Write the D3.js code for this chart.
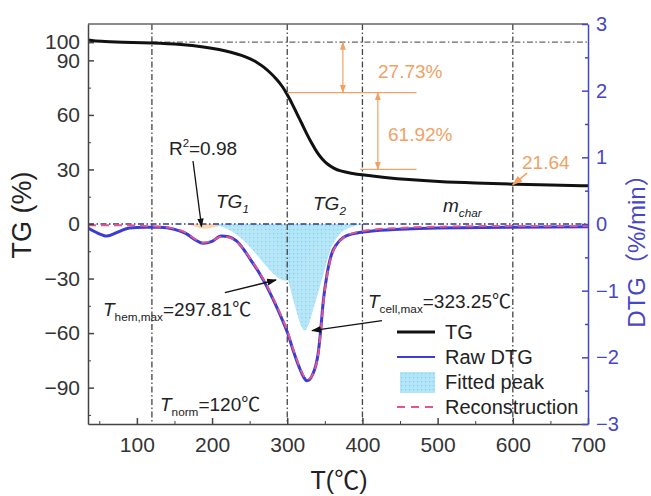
<!DOCTYPE html>
<html><head><meta charset="utf-8">
<script src="https://cdn.jsdelivr.net/npm/d3@7"></script>
<style>
body{margin:0;background:#fff}
text{font-family:"Liberation Sans",Arial,"Noto Sans CJK SC",sans-serif}
</style>
</head><body>
<svg id="c" width="651" height="496"></svg>
<script>
// ---------- data ----------
const tgT = [35, 50, 80, 120, 160, 190, 210, 225, 240, 250, 260, 268, 278, 286, 294, 301, 307, 313, 320, 326, 333, 340, 347, 353, 362, 370, 385, 400, 430, 460, 500, 550, 600, 650, 700];
const tgV = [101.2, 100.4, 100.0, 99.6, 98.8, 97.4, 96.0, 94.5, 92.8, 91.0, 88.9, 86.6, 83.0, 79.6, 75.5, 70.4, 65.8, 60.5, 54.8, 49.5, 44.0, 39.0, 35.5, 33.0, 30.6, 29.2, 27.9, 27.0, 25.6, 24.4, 23.3, 22.5, 21.9, 21.4, 21.0];

const dtgT = [35, 45, 60, 75, 90, 110, 130, 150, 165, 178, 188, 200, 212, 222, 232, 242, 252, 262, 272, 282, 292, 300, 308, 316, 322, 326, 330, 334, 338, 341, 344, 348, 353, 359, 366, 375, 390, 410, 450, 500, 600, 700];
const rawDTG = [-0.06, -0.12, -0.18, -0.12, -0.06, -0.05, -0.05, -0.08, -0.14, -0.24, -0.29, -0.26, -0.18, -0.19, -0.25, -0.38, -0.55, -0.72, -0.92, -1.15, -1.4, -1.62, -1.9, -2.15, -2.3, -2.35, -2.33, -2.25, -2.12, -1.95, -1.65, -1.15, -0.75, -0.45, -0.3, -0.2, -0.14, -0.11, -0.08, -0.06, -0.05, -0.04];
const reconDTG = [-0.02, -0.02, -0.02, -0.02, -0.02, -0.03, -0.04, -0.07, -0.13, -0.23, -0.28, -0.25, -0.19, -0.2, -0.26, -0.38, -0.54, -0.71, -0.9, -1.13, -1.38, -1.6, -1.88, -2.13, -2.28, -2.33, -2.32, -2.25, -2.13, -1.97, -1.68, -1.18, -0.77, -0.47, -0.31, -0.2, -0.13, -0.09, -0.06, -0.04, -0.03, -0.03];

const hemiT = [200, 215, 230, 245, 260, 272, 282, 290, 298, 306, 315, 325, 335, 345, 360, 380];
const hemiV = [0, -0.05, -0.14, -0.28, -0.47, -0.63, -0.75, -0.82, -0.85, -0.82, -0.72, -0.55, -0.36, -0.2, -0.07, 0];
const cellT = [250, 262, 277, 290, 300, 312, 318, 323, 328, 334, 347, 357, 370, 385, 400];
const cellV = [0, -0.05, -0.15, -0.4, -0.8, -1.3, -1.52, -1.6, -1.52, -1.3, -0.8, -0.4, -0.15, -0.05, 0];
const smallT = [165, 178, 188, 198, 210, 222];
const smallV = [0, -0.04, -0.07, -0.06, -0.03, 0];

const xTicks = [100, 200, 300, 400, 500, 600, 700];
const xMinor = [50, 150, 250, 350, 450, 550, 650];
const yLTicks = [-90, -60, -30, 0, 30, 60, 90, 100];
const yLMinor = [-105, -75, -45, -15, 15, 45, 75];
const yRTicks = [-3, -2, -1, 0, 1, 2, 3];
const yRMinor = [-2.5, -1.5, -0.5, 0.5, 1.5, 2.5];
const vLines = [120, 300, 400, 600];
const legendItems = ["TG", "Raw DTG", "Fitted peak", "Reconstruction"];

// ---------- setup ----------
const svg = d3.select("#c");
const L = 88, R = 588, T = 24, B = 424;
const x = d3.scaleLinear([35, 700], [L, R]);
const yL = d3.scaleLinear([-110, 110], [B, T]);
const yR = d3.scaleLinear([-3, 3], [B, T]);
const blue = "#3b3bd6", axisBlue = "#4646c8", orange = "#f0a265", pink = "#e2558e";

const defs = svg.append("defs");
const pat = defs.append("pattern").attr("id", "dots").attr("patternUnits", "userSpaceOnUse").attr("width", 4).attr("height", 4);
pat.append("rect").attr("width", 4).attr("height", 4).attr("fill", "#b2e5f7");
pat.append("rect").attr("x", 1).attr("y", 1).attr("width", 1.2).attr("height", 1.2).attr("fill", "#86cde9");
function marker(id, color) {
  defs.append("marker").attr("id", id).attr("viewBox", "0 0 10 10").attr("refX", 9).attr("refY", 5)
    .attr("markerWidth", 7).attr("markerHeight", 7).attr("orient", "auto-start-reverse")
    .append("path").attr("d", "M0,1.5L10,5L0,8.5Z").attr("fill", color);
}
marker("ab", "#111"); marker("ao", orange);

defs.append("clipPath").attr("id", "clip").append("rect").attr("x", L).attr("y", T).attr("width", R - L).attr("height", B - T);
const plot = svg.append("g").attr("clip-path", "url(#clip)");

// fitted peaks
const area = d3.area().x(d => x(d[0])).y0(yR(0)).y1(d => yR(d[1])).curve(d3.curveMonotoneX);
plot.append("path").datum(d3.zip(smallT, smallV)).attr("d", area).attr("fill", "#fbd6ad");
plot.append("path").datum(d3.zip(hemiT, hemiV)).attr("d", area).attr("fill", "url(#dots)").attr("opacity", 0.95);
plot.append("path").datum(d3.zip(cellT, cellV)).attr("d", area).attr("fill", "url(#dots)").attr("opacity", 0.95);

// reference lines
plot.selectAll(".vl").data(vLines).join("line")
  .attr("x1", d => x(d)).attr("x2", d => x(d)).attr("y1", T).attr("y2", B)
  .attr("stroke", "#444").attr("stroke-width", 1.3).attr("stroke-dasharray", "6,2.5,1.5,2.5");
plot.append("line").attr("x1", x(120)).attr("x2", R).attr("y1", yL(100)).attr("y2", yL(100))
  .attr("stroke", "#666").attr("stroke-width", 1.2).attr("stroke-dasharray", "6,2.5,1.5,2.5");
plot.append("line").attr("x1", L).attr("x2", R).attr("y1", yR(0)).attr("y2", yR(0))
  .attr("stroke", "#2d3a8a").attr("stroke-width", 1.5).attr("stroke-dasharray", "6,2.5,1.5,2.5");

// curves
const lineR = d3.line().x((d, i) => x(dtgT[i])).y(d => yR(d)).curve(d3.curveMonotoneX);
plot.append("path").datum(rawDTG).attr("d", lineR).attr("fill", "none").attr("stroke", blue).attr("stroke-width", 3);
plot.append("path").datum(reconDTG).attr("d", lineR).attr("fill", "none").attr("stroke", pink).attr("stroke-width", 2).attr("stroke-dasharray", "8,5");
const lineL = d3.line().x((d, i) => x(tgT[i])).y(d => yL(d)).curve(d3.curveBasis);
plot.append("path").datum(tgV).attr("d", lineL).attr("fill", "none").attr("stroke", "#111").attr("stroke-width", 3);

// ---------- annotations ----------
const ann = svg.append("g");
function seg(x1, y1, x2, y2, color, w, m1, m2) {
  const l = ann.append("line").attr("x1", x1).attr("y1", y1).attr("x2", x2).attr("y2", y2)
    .attr("stroke", color).attr("stroke-width", w);
  if (m1) l.attr("marker-start", `url(#${m1})`);
  if (m2) l.attr("marker-end", `url(#${m2})`);
}
// orange mass-loss marks
seg(x(300), yL(72.27), x(472), yL(72.27), orange, 1.2);
seg(x(397), yL(30), x(472), yL(30), orange, 1.2);
seg(x(374), yL(100), x(374), yL(72.27), orange, 1.2, "ao", "ao");
seg(x(420.5), yL(72.27), x(420.5), yL(30), orange, 1.2, "ao", "ao");
seg(x(619), yL(28), x(600), yL(21.64), orange, 1.5, null, "ao");
// black pointers
seg(193, 161, x(186), yR(-0.04), "#111", 1.3, null, "ab");
seg(x(217), yR(-1.03), x(285), yR(-0.84), "#111", 1.4, null, "ab");
seg(x(426), yR(-1.45), x(333), yR(-1.6), "#111", 1.4, null, "ab");

function txt(xp, yp, size, color, parts, anchor) {
  const t = ann.append("text").attr("x", xp).attr("y", yp).attr("font-size", size).attr("fill", color)
    .attr("text-anchor", anchor || "start");
  let shift = 0;
  parts.forEach(p => {
    const s = t.append("tspan").text(p.t);
    if (p.i) s.attr("font-style", "italic");
    if (p.sub) { s.attr("font-size", size * 0.62).attr("dy", 5 - shift); shift = 5; }
    else if (p.sup) { s.attr("font-size", size * 0.6).attr("dy", -8 - shift); shift = -8; }
    else if (shift) { s.attr("dy", -shift); shift = 0; }
  });
  return t;
}
txt(203, 155, 19, "#222", [{t: "R"}, {t: "2", sup: true}, {t: "=0.98"}], "middle");
txt(216, 208, 19, "#222", [{t: "TG", i: true}, {t: "1", sub: true, i: true}]);
txt(313, 210, 19, "#222", [{t: "TG", i: true}, {t: "2", sub: true, i: true}]);
txt(443, 212, 19, "#222", [{t: "m", i: true}, {t: "char", sub: true, i: true}]);
txt(378, 78, 19, orange, [{t: "27.73%"}]);
txt(388, 141, 19, orange, [{t: "61.92%"}]);
txt(522, 169, 19, orange, [{t: "21.64"}]);
txt(103, 316, 19, "#222", [{t: "T", i: true}, {t: "hem,max", sub: true}, {t: "=297.81℃"}]);
txt(368, 308, 19, "#222", [{t: "T", i: true}, {t: "cell,max", sub: true}, {t: "=323.25℃"}]);
txt(160, 411, 19, "#222", [{t: "T", i: true}, {t: "norm", sub: true}, {t: "=120℃"}]);

// ---------- legend ----------
const lg = svg.append("g");
legendItems.forEach((name, i) => {
  const yy = 332 + i * 25;
  if (i === 0) lg.append("line").attr("x1", 397).attr("x2", 435).attr("y1", yy).attr("y2", yy).attr("stroke", "#111").attr("stroke-width", 3);
  if (i === 1) lg.append("line").attr("x1", 397).attr("x2", 435).attr("y1", yy).attr("y2", yy).attr("stroke", blue).attr("stroke-width", 2);
  if (i === 2) lg.append("rect").attr("x", 400).attr("y", yy - 10).attr("width", 35).attr("height", 21).attr("fill", "url(#dots)");
  if (i === 3) lg.append("line").attr("x1", 397).attr("x2", 435).attr("y1", yy).attr("y2", yy).attr("stroke", pink).attr("stroke-width", 2).attr("stroke-dasharray", "8,6");
  lg.append("text").attr("x", 445).attr("y", yy + 7).attr("font-size", 20).attr("fill", "#222").text(name);
});

// ---------- axes ----------
const fmt = d => (d < 0 ? "−" + Math.abs(d) : d);
svg.append("line").attr("x1", L).attr("x2", R).attr("y1", T).attr("y2", T).attr("stroke", "#666").attr("stroke-width", 1.5);
const gx = svg.append("g").attr("transform", `translate(0,${B})`)
  .call(d3.axisBottom(x).tickValues(xTicks).tickSizeInner(-6).tickSizeOuter(0).tickPadding(13));
svg.append("g").attr("transform", `translate(0,${B})`)
  .call(d3.axisBottom(x).tickValues(xMinor).tickSizeInner(-3).tickSizeOuter(0).tickFormat(""))
  .call(g => g.select(".domain").remove());
const gl = svg.append("g").attr("transform", `translate(${L},0)`)
  .call(d3.axisLeft(yL).tickValues(yLTicks).tickSizeInner(-6).tickSizeOuter(0).tickPadding(8).tickFormat(fmt));
svg.append("g").attr("transform", `translate(${L},0)`)
  .call(d3.axisLeft(yL).tickValues(yLMinor).tickSizeInner(-3).tickSizeOuter(0).tickFormat(""))
  .call(g => g.select(".domain").remove());
const gr = svg.append("g").attr("transform", `translate(${R},0)`)
  .call(d3.axisRight(yR).tickValues(yRTicks).tickSizeInner(-6).tickSizeOuter(0).tickPadding(8).tickFormat(fmt));
const grm = svg.append("g").attr("transform", `translate(${R},0)`)
  .call(d3.axisRight(yR).tickValues(yRMinor).tickSizeInner(-3).tickSizeOuter(0).tickFormat(""))
  .call(g => g.select(".domain").remove());
[gx, gl].forEach(g => {
  g.selectAll("path,line").attr("stroke", "#444").attr("stroke-width", 1.5);
  g.selectAll("text").attr("font-size", 21).attr("fill", "#333").attr("font-family", "Liberation Sans, Arial");
});
svg.selectAll("g").filter(function(){ return this !== gr.node() && this !== grm.node(); }).selectAll(".tick line").attr("stroke", "#444");
[gr, grm].forEach(g => g.selectAll("path,line").attr("stroke", axisBlue).attr("stroke-width", 1.5));
gr.selectAll("text").attr("font-size", 20).attr("fill", axisBlue).attr("font-family", "Liberation Sans, Arial");

// titles
svg.append("text").attr("transform", `translate(31,215) rotate(-90)`).attr("text-anchor", "middle")
  .attr("font-size", 27).attr("fill", "#222").text("TG (%)");
svg.append("text").attr("transform", `translate(645,245) rotate(-90)`).attr("text-anchor", "middle")
  .attr("font-size", 24).attr("fill", axisBlue).text("DTG（%/min）");
svg.append("text").attr("x", 339).attr("y", 489).attr("text-anchor", "middle")
  .attr("font-size", 25).attr("fill", "#222").text("T(℃)");
</script>
</body></html>
